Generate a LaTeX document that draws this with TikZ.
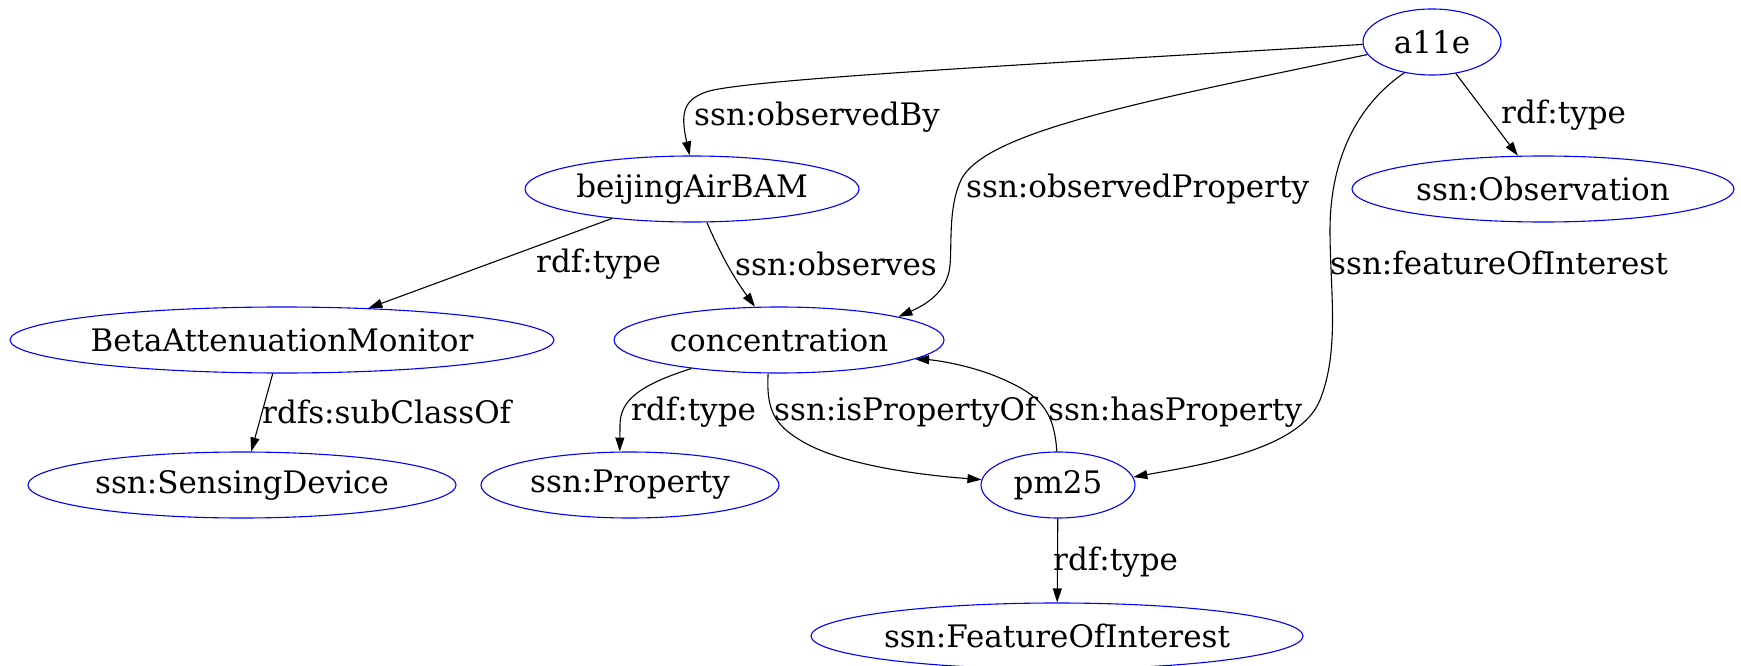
\documentclass[tikz,border=0pt]{standalone}
\usepackage{fontspec}
\setmainfont{DejaVu Serif}
\usetikzlibrary{shapes.geometric,arrows.meta}
\begin{document}
\begin{tikzpicture}[x=1pt,y=-1pt,
  nd/.style={ellipse, draw=blue, line width=1.1pt, inner sep=0pt, minimum height=66pt, font=\fontsize{31}{35}\selectfont},
  ed/.style={draw=black, line width=1.1pt, -{Triangle[length=14pt,width=9pt]}},
  lb/.style={anchor=west, inner sep=0pt, font=\fontsize{31}{35}\selectfont}]
\useasboundingbox (0,0) rectangle (1741,666);
\node[nd, minimum width=138pt] (a11e) at (1432,42) {\makebox[0pt]{a11e}};
\node[nd, minimum width=382pt] (obs) at (1543,189) {\makebox[0pt]{ssn:Observation}};
\node[nd, minimum width=334pt] (bj) at (692,189) {\makebox[0pt]{beijingAirBAM}};
\node[nd, minimum width=544pt] (bam) at (282,340) {\makebox[0pt]{BetaAttenuationMonitor}};
\node[nd, minimum width=330pt] (conc) at (779,340) {\makebox[0pt]{concentration}};
\node[nd, minimum width=428pt] (sd) at (242,485) {\makebox[0pt]{ssn:SensingDevice}};
\node[nd, minimum width=298pt] (prop) at (630,485) {\makebox[0pt]{ssn:Property}};
\node[nd, minimum width=154pt] (pm) at (1058,485) {\makebox[0pt]{pm25}};
\node[nd, minimum width=492pt] (foi) at (1057,636) {\makebox[0pt]{ssn:FeatureOfInterest}};

% a11e -> beijingAirBAM
\draw[ed] (a11e.182) .. controls (1000,66) and (740,80) .. (706,92) .. controls (684,100) and (680,112) .. (bj.94);
\node[lb] (l1) at (694,117) {ssn:observedBy};
% a11e -> concentration
\draw[ed] (a11e.191) .. controls (1150,100) and (990,130) .. (962,178) .. controls (948,205) and (952,245) .. (950,265) .. controls (948,292) and (925,305) .. (conc.11);
\node[lb] (l2) at (966,189) {ssn:observedProperty};
% a11e -> pm25
\draw[ed] (a11e.228) .. controls (1350,110) and (1330,170) .. (1330,230) .. controls (1330,290) and (1340,350) .. (1320,400) .. controls (1300,450) and (1200,465) .. (pm.6);
\node[lb] (l3) at (1330,263) {ssn:featureOfInterest};
% a11e -> Observation
\draw[ed] (a11e) -- (obs);
\node[lb] (l4) at (1501,115) {rdf:type};
% beijingAirBAM -> BAM
\draw[ed] (bj) -- (bam);
\node[lb] (l5) at (536,264) {rdf:type};
% beijingAirBAM -> concentration
\draw[ed] (bj) to[bend right=6] (conc);
\node[lb] (l6) at (735,264) {ssn:observes};
% BAM -> SensingDevice
\draw[ed] (bam) -- (sd);
\node[lb] (l7) at (262,412) {rdfs:subClassOf};
% concentration -> Property
\draw[ed] (conc.198) .. controls (640,385) and (620,400) .. (620,425) -- (prop.107);
\node[lb] (l8) at (631,412) {rdf:type};
% concentration -> pm25
\draw[ed] (conc.252) .. controls (766,410) and (775,425) .. (800,440) .. controls (840,465) and (920,475) .. (pm.176);
\node[lb] (l9) at (774,412) {ssn:isPropertyOf};
% pm25 -> concentration
\draw[ed] (pm.92) .. controls (1054,410) and (1040,395) .. (1000,378) .. controls (970,365) and (935,360) .. (conc.-8);
\node[lb] (l10) at (1048,412) {ssn:hasProperty};
% pm25 -> FeatureOfInterest
\draw[ed] (pm) -- (foi);
\node[lb] (l11) at (1053,562) {rdf:type};
\end{tikzpicture}
\end{document}
